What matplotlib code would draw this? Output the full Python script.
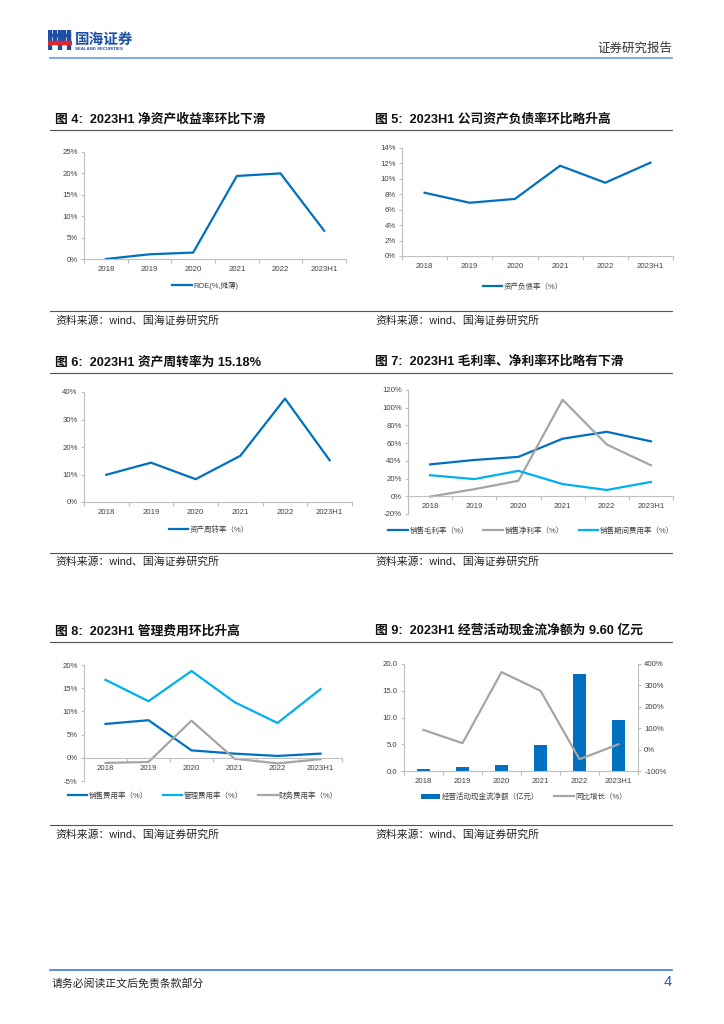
import numpy as np
import matplotlib
matplotlib.use("Agg")
import matplotlib.pyplot as plt
from matplotlib.patches import Rectangle

plt.rcParams['font.family'] = ['Liberation Sans', 'Noto Sans CJK SC', 'DejaVu Sans']

# data
years = ["2018", "2019", "2020", "2021", "2022", "2023H1"]
roe = [0.0, 1.1, 1.5, 19.4, 20.0, 6.6]
debt_ratio = [8.2, 6.9, 7.4, 11.7, 9.5, 12.1]
turnover = [9.9, 14.3, 8.3, 16.8, 37.6, 15.18]
gross_margin = [36.0, 41.0, 44.5, 65.0, 72.8, 62.0]
net_margin = [-0.4, 8.0, 17.5, 109.0, 58.5, 35.0]
period_exp = [23.8, 19.4, 28.7, 13.8, 7.1, 16.2]
sales_exp = [7.3, 8.1, 1.6, 0.9, 0.4, 0.9]
admin_exp = [16.8, 12.2, 18.7, 12.0, 7.5, 14.8]
fin_exp = [-1.1, -0.9, 8.0, -0.2, -1.2, -0.3]
cashflow = [0.45, 0.75, 1.05, 4.8, 18.2, 9.60]
cash_yoy = [92, 30, 362, 275, -45, 25]

DARK = '#0070C0'
LIGHT = '#00B0F0'
GRAY = '#A5A5A5'
AXC = '#BFBFBF'
TXT = '#404040'
CJK = ['Liberation Sans', 'Noto Sans CJK SC']
TICK_FS = 5.6

W, H = 724, 1024
fig = plt.figure(figsize=(W / 100, H / 100), dpi=100)


def P(x, y):
    return x / W, 1 - y / H


def box(l, t, r, b):
    return [l / W, 1 - b / H, (r - l) / W, (b - t) / H]


def hline(x0, x1, y, color, lw):
    fig.add_artist(plt.Line2D([x0 / W, x1 / W], [1 - y / H, 1 - y / H],
                              color=color, lw=lw, transform=fig.transFigure))


def style(ax, ylim, yticks, fmt, zero_axis=False):
    for s in ['top', 'right']:
        ax.spines[s].set_visible(False)
    for s in ['left', 'bottom']:
        ax.spines[s].set_color(AXC)
        ax.spines[s].set_linewidth(0.8)
    if zero_axis:
        ax.spines['bottom'].set_position(('data', 0))
    ax.set_xlim(-0.5, 5.5)
    ax.set_ylim(*ylim)
    ax.set_xticks(range(6))
    ax.set_xticklabels(years)
    ax.set_xticks(np.arange(-0.5, 6, 1), minor=True)
    ax.tick_params(axis='x', which='major', length=0, pad=5, labelsize=TICK_FS, labelcolor=TXT)
    ax.tick_params(axis='x', which='minor', length=3, color=AXC, width=0.8)
    ax.set_yticks(yticks)
    ax.set_yticklabels([fmt(v) for v in yticks])
    ax.tick_params(axis='y', length=2.5, color=AXC, width=0.8, pad=2, labelsize=TICK_FS, labelcolor=TXT)
    ax.patch.set_alpha(0)


def legend(ax, x, y, handles=None, ncol=1):
    ax.legend(handles=handles, loc='center', bbox_to_anchor=P(x, y), bbox_transform=fig.transFigure,
              ncol=ncol, frameon=False, handlelength=2.6, handletextpad=0.2, columnspacing=2.0,
              prop={'family': CJK, 'size': 5.4}, labelcolor=TXT)


pct = lambda v: f"{v:.0f}%"

# header
hline(50, 672, 58, '#6A9BE0', 1.2)
ax_logo = fig.add_axes(box(48, 30, 72, 50))
ax_logo.set_xlim(0, 24)
ax_logo.set_ylim(0, 20)
ax_logo.axis('off')
for r in [(0, 0, 3, 20), (5, 8, 3, 12), (10, 0, 3, 20), (14, 6, 3, 14), (19, 0, 3, 20),
          (0, 14, 13, 2.5), (14, 14, 8, 2.5)]:
    ax_logo.add_patch(Rectangle(r[:2], r[2], r[3], color='#1F4FA3'))
ax_logo.add_patch(Rectangle((0, 6), 24, 3, color='#E0262B'))
fig.text(*P(75, 40), "国海证券", fontsize=10.5, fontweight='bold', color='#1F4FA3',
         family=CJK, va='center', ha='left')
fig.text(*P(75, 48.5), "SEALAND SECURITIES", fontsize=3.2, fontweight='bold', color='#1F4FA3',
         va='center', ha='left')
fig.text(*P(672, 49), "证券研究报告", fontsize=9, color='#333333', family=CJK, va='center', ha='right')

# titles, rules, sources
titles = [
    (55, 119, "图 4:  2023H1 净资产收益率环比下滑"),
    (375, 119, "图 5:  2023H1 公司资产负债率环比略升高"),
    (55, 362, "图 6:  2023H1 资产周转率为 15.18%"),
    (375, 362, "图 7:  2023H1 毛利率、净利率环比略有下滑"),
    (55, 631, "图 8:  2023H1 管理费用环比升高"),
    (375, 631, "图 9:  2023H1 经营活动现金流净额为 9.60 亿元"),
]
for x, y, t in titles:
    fig.text(*P(x, y), t, fontsize=9.2, fontweight='bold', color='#111111', family=CJK,
             va='center', ha='left')
for y in [130, 311, 373, 553, 642, 825]:
    hline(50, 672, y, '#555555', 0.8)
for y in [321, 562, 835]:
    for x in [55, 375]:
        fig.text(*P(x, y), "资料来源：wind、国海证券研究所", fontsize=7.8, color='#222222',
                 family=CJK, va='center', ha='left')

# footer
hline(50, 672, 970, '#3B7DD8', 1.2)
fig.text(*P(52, 983), "请务必阅读正文后免责条款部分", fontsize=7.8, color='#222222', family=CJK,
         va='center', ha='left')
fig.text(*P(672, 982), "4", fontsize=10.5, color='#1F5FC8', va='center', ha='right')

# chart 4: ROE
ax1 = fig.add_axes(box(84, 152, 346, 259))
ax1.plot(range(6), roe, color=DARK, lw=1.6, label="ROE(%,摊薄)")
style(ax1, (0, 25), range(0, 26, 5), pct)
legend(ax1, 205, 286)

# chart 5: debt ratio
ax2 = fig.add_axes(box(402, 148, 673, 256))
ax2.plot(range(6), debt_ratio, color=DARK, lw=1.6, label="资产负债率（%）")
style(ax2, (0, 14), range(0, 15, 2), pct)
legend(ax2, 523, 287)

# chart 6: turnover
ax3 = fig.add_axes(box(84, 392, 352, 502))
ax3.plot(range(6), turnover, color=DARK, lw=1.6, label="资产周转率（%）")
style(ax3, (0, 40), range(0, 41, 10), pct)
legend(ax3, 209, 530)

# chart 7: margins
ax4 = fig.add_axes(box(408, 390, 673, 514))
ax4.plot(range(6), gross_margin, color=DARK, lw=1.6, label="销售毛利率（%）")
ax4.plot(range(6), net_margin, color=GRAY, lw=1.6, label="销售净利率（%）")
ax4.plot(range(6), period_exp, color=LIGHT, lw=1.6, label="销售期间费用率（%）")
style(ax4, (-20, 120), range(-20, 121, 20), pct, zero_axis=True)
legend(ax4, 531, 531, ncol=3)

# chart 8: expense ratios
ax5 = fig.add_axes(box(84, 665, 342, 781))
ax5.plot(range(6), sales_exp, color=DARK, lw=1.6, label="销售费用率（%）")
ax5.plot(range(6), admin_exp, color=LIGHT, lw=1.6, label="管理费用率（%）")
ax5.plot(range(6), fin_exp, color=GRAY, lw=1.6, label="财务费用率（%）")
style(ax5, (-5, 20), range(-5, 21, 5), pct, zero_axis=True)
legend(ax5, 203, 796, ncol=3)

# chart 9: operating cash flow
ax6 = fig.add_axes(box(404, 664, 638, 771))
bars = ax6.bar(range(6), cashflow, width=0.34, color=DARK, label="经营活动现金流净额（亿元）")
style(ax6, (0, 20), np.arange(0, 21, 5), lambda v: f"{v:.1f}")
ax6b = ax6.twinx()
line, = ax6b.plot(range(6), cash_yoy, color=GRAY, lw=1.6, label="同比增长（%）")
ax6b.set_ylim(-100, 400)
ax6b.set_yticks(range(-100, 401, 100))
ax6b.set_yticklabels([pct(v) for v in range(-100, 401, 100)])
ax6b.tick_params(axis='y', length=2.5, color=AXC, width=0.8, pad=2, labelsize=TICK_FS, labelcolor=TXT)
for s in ['top', 'left', 'bottom']:
    ax6b.spines[s].set_visible(False)
ax6b.spines['right'].set_color(AXC)
ax6b.spines['right'].set_linewidth(0.8)
legend(ax6, 524, 797, handles=[bars, line], ncol=2)

fig.savefig("out.png", dpi=100)
